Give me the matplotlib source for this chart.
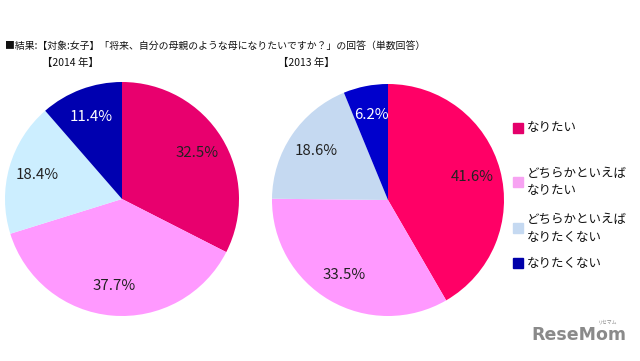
import matplotlib
matplotlib.use("Agg")
import matplotlib.pyplot as plt
from matplotlib.patches import Rectangle

plt.rcParams["font.family"] = ["Noto Sans CJK JP", "DejaVu Sans"]

# ---------- data ----------
labels = ["なりたい", "どちらかといえば\nなりたい", "どちらかといえば\nなりたくない", "なりたくない"]
vals_2014 = [32.5, 37.7, 18.4, 11.4]
vals_2013 = [41.6, 33.5, 18.6, 6.2]
cols_2014 = ["#E8006E", "#FF99FF", "#CCEEFF", "#0000B0"]
cols_2013 = ["#FF0066", "#FF99FF", "#C5D9F1", "#0000CC"]
leg_cols = ["#E4006A", "#F7A3F2", "#C5D9F1", "#0000AA"]
title = "■結果:【対象:女子】「将来、自分の母親のような母になりたいですか？」の回答（単数回答）"

W, H = 640, 361
fig = plt.figure(figsize=(W / 100, H / 100), dpi=100)
fig.patch.set_facecolor("white")

def box(cx, cy, r):
    return [(cx - r) / W, (H - cy - r) / H, 2 * r / W, 2 * r / H]

def pie(ax, vals, cols):
    wedges, _, autot = ax.pie(vals, colors=cols, startangle=90, counterclock=False,
                              autopct="%.1f%%", pctdistance=0.75,
                              wedgeprops=dict(linewidth=0),
                              textprops=dict(fontsize=10.8, color="#222222"))
    autot[-1].set_color("white")
    ax.set_xlim(-1, 1); ax.set_ylim(-1, 1)
    ax.set_aspect("equal")
    ax.axis("off")

ax1 = fig.add_axes(box(122, 199, 117))
pie(ax1, vals_2014, cols_2014)
ax2 = fig.add_axes(box(388, 200, 116))
pie(ax2, vals_2013, cols_2013)

fig.text(5 / W, 1 - 46 / H, title, fontsize=7.1, va="center", ha="left", color="#111111")
fig.text(42 / W, 1 - 63 / H, "【2014 年】", fontsize=7.5, va="center", ha="left", color="#111111")
fig.text(278 / W, 1 - 63 / H, "【2013 年】", fontsize=7.5, va="center", ha="left", color="#111111")

# legend (manual)
leg_y = [128, 182, 228, 263]
for lab, c, y in zip(labels, leg_cols, leg_y):
    fig.patches.append(Rectangle((513 / W, 1 - (y + 5) / H), 10 / W, 10 / H,
                                 transform=fig.transFigure, color=c))
    fig.text(527 / W, 1 - y / H, lab, fontsize=9, va="center", ha="left",
             color="#111111", linespacing=1.5)

# watermark
fig.text(579 / W, 1 - 335 / H, "ReseMom", fontsize=12.5, fontweight="bold",
         color="#8a8a8a", ha="center", va="center", family="DejaVu Sans")
fig.text(608 / W, 1 - 322 / H, "リセマム", fontsize=3.5, color="#8a8a8a",
         ha="center", va="center")

fig.savefig("out.png", dpi=100, facecolor="white")
